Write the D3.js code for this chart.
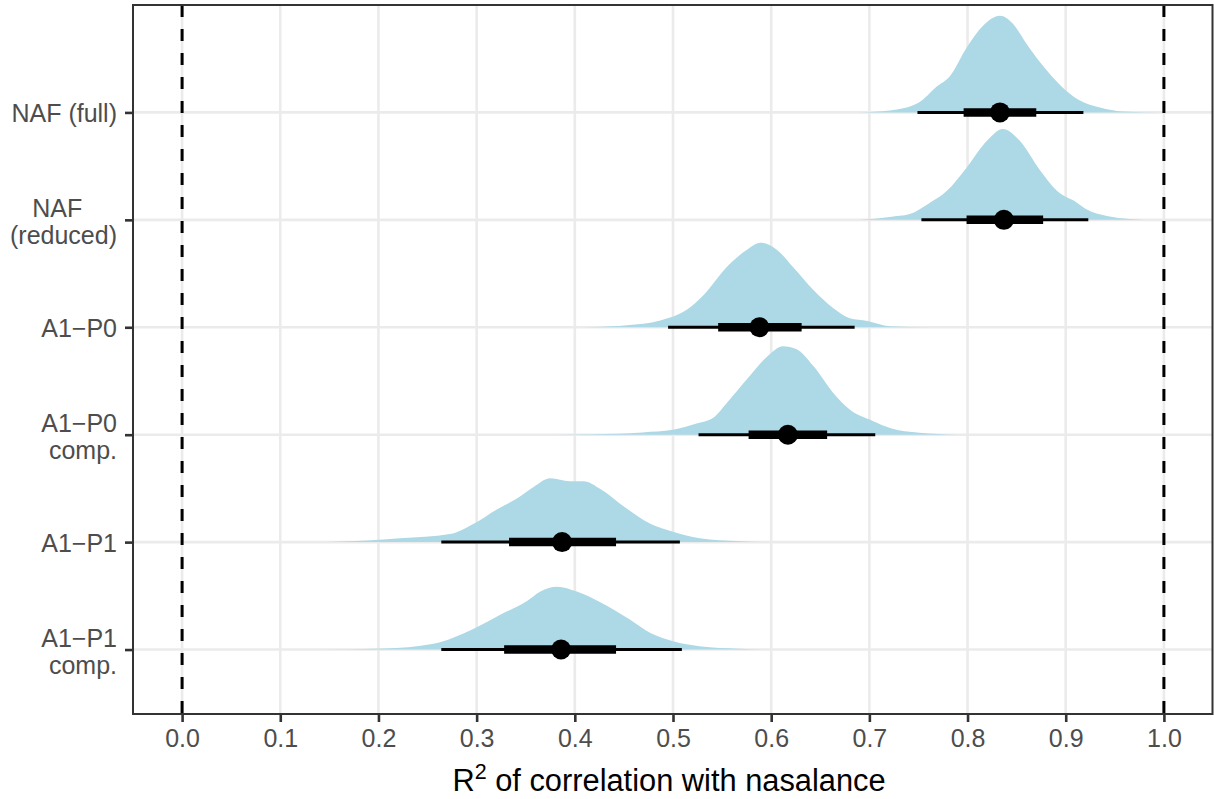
<!DOCTYPE html>
<html>
<head>
<meta charset="utf-8">
<script src="https://cdn.jsdelivr.net/npm/d3@7"></script>
<style>
  body { margin: 0; background: #fff; }
  svg { font-family: "Liberation Sans", Arial, sans-serif; }
</style>
</head>
<body>
<svg></svg>
<script>
// categories, top to bottom
const categories = ["NAF (full)", "NAF (reduced)", "A1−P0", "A1−P0 comp.", "A1−P1", "A1−P1 comp."];
const labelLines = [["NAF (full)"], ["NAF     ", "(reduced)"], ["A1−P0"], ["A1−P0", "comp."], ["A1−P1"], ["A1−P1", "comp."]];

// density curves (x = R², d = relative density, max 1)
const nafFullX = [0.69, 0.721, 0.75, 0.769, 0.782, 0.799, 0.816, 0.833, 0.846, 0.86, 0.881, 0.901, 0.914, 0.935, 0.958, 0.996];
const nafFullD = [0, 0.02, 0.10, 0.27, 0.375, 0.67, 0.90, 1.0, 0.92, 0.71, 0.43, 0.22, 0.125, 0.05, 0.01, 0];
const nafRedX = [0.69, 0.721, 0.741, 0.759, 0.779, 0.799, 0.82, 0.836, 0.853, 0.874, 0.891, 0.911, 0.921, 0.942, 0.965, 0.996];
const nafRedD = [0, 0.03, 0.06, 0.16, 0.30, 0.54, 0.82, 0.94, 0.82, 0.51, 0.30, 0.18, 0.11, 0.04, 0.01, 0];
const a1p0X = [0.40, 0.419, 0.453, 0.487, 0.514, 0.531, 0.555, 0.575, 0.589, 0.606, 0.622, 0.643, 0.663, 0.68, 0.698, 0.721, 0.762];
const a1p0D = [0, 0.003, 0.02, 0.07, 0.18, 0.33, 0.625, 0.80, 0.875, 0.80, 0.625, 0.385, 0.20, 0.094, 0.066, 0.01, 0];
const a1p0cX = [0.38, 0.419, 0.469, 0.50, 0.524, 0.541, 0.555, 0.575, 0.596, 0.612, 0.626, 0.643, 0.663, 0.68, 0.704, 0.721, 0.751, 0.79];
const a1p0cD = [0, 0.005, 0.024, 0.05, 0.115, 0.175, 0.33, 0.57, 0.81, 0.915, 0.885, 0.71, 0.435, 0.26, 0.14, 0.07, 0.02, 0];
const a1p1X = [0.141, 0.154, 0.222, 0.273, 0.297, 0.321, 0.341, 0.358, 0.375, 0.395, 0.409, 0.426, 0.451, 0.477, 0.50, 0.527, 0.568, 0.599];
const a1p1D = [0, 0.003, 0.04, 0.083, 0.19, 0.34, 0.45, 0.57, 0.66, 0.63, 0.63, 0.55, 0.36, 0.19, 0.107, 0.04, 0.01, 0];
const a1p1cX = [0.141, 0.205, 0.256, 0.296, 0.324, 0.351, 0.365, 0.382, 0.402, 0.426, 0.456, 0.477, 0.50, 0.527, 0.568, 0.599];
const a1p1cD = [0, 0.01, 0.06, 0.21, 0.36, 0.50, 0.60, 0.65, 0.60, 0.49, 0.31, 0.17, 0.086, 0.034, 0.008, 0];

// point + intervals (66% thick, 95% thin)
const medians = [0.833, 0.837, 0.588, 0.617, 0.387, 0.386];
const lo66 = [0.796, 0.799, 0.546, 0.577, 0.333, 0.328];
const hi66 = [0.870, 0.877, 0.631, 0.657, 0.442, 0.442];
const lo95 = [0.749, 0.753, 0.495, 0.526, 0.264, 0.264];
const hi95 = [0.918, 0.923, 0.685, 0.706, 0.507, 0.509];

const refLines = [0, 1];
const xTicks = [0, 0.1, 0.2, 0.3, 0.4, 0.5, 0.6, 0.7, 0.8, 0.9, 1.0];

const slabX = [nafFullX, nafRedX, a1p0X, a1p0cX, a1p1X, a1p1cX];
const slabD = [nafFullD, nafRedD, a1p0D, a1p0cD, a1p1D, a1p1cD];

const width = 1214, height = 799;
const svg = d3.select("svg").attr("width", width).attr("height", height);

const panel = { left: 133, right: 1212.5, top: 5, bottom: 714 };

const xScale = d3.scaleLinear().domain([-0.05, 1.05]).range([panel.left, 1213]);
// rows numbered 6 (top) .. 1 (bottom); extra room above the top row for its slab
const yScale = d3.scaleLinear().domain([0.4, 7.0]).range([panel.bottom, panel.top]);
const rowPos = (i) => yScale(categories.length - i);
const step = yScale(1) - yScale(2);
const slabScale = d3.scaleLinear().domain([0, 1]).range([0, 0.9 * step]);

const gridColor = "#EBEBEB";
const lw = 2.6;
const fs = 25;

// grid
const grid = svg.append("g");
grid.selectAll(".gx").data(xTicks).join("line")
  .attr("x1", (d) => xScale(d)).attr("x2", (d) => xScale(d))
  .attr("y1", panel.top).attr("y2", panel.bottom)
  .attr("stroke", gridColor).attr("stroke-width", lw);
grid.selectAll(".gy").data(categories).join("line")
  .attr("x1", panel.left).attr("x2", panel.right)
  .attr("y1", (d, i) => rowPos(i)).attr("y2", (d, i) => rowPos(i))
  .attr("stroke", gridColor).attr("stroke-width", lw);

// slabs
categories.forEach((c, i) => {
  const pts = slabX[i].map((x, j) => [x, slabD[i][j]]);
  const area = d3.area()
    .x((d) => xScale(d[0]))
    .y0(rowPos(i))
    .y1((d) => rowPos(i) - slabScale(d[1]))
    .curve(d3.curveMonotoneX);
  svg.append("path").attr("d", area(pts)).attr("fill", "#ADD8E6");
});

// reference lines
svg.selectAll(".ref").data(refLines).join("line")
  .attr("x1", (d) => xScale(d)).attr("x2", (d) => xScale(d))
  .attr("y1", panel.top).attr("y2", panel.bottom)
  .attr("stroke", "black").attr("stroke-width", 3)
  .attr("stroke-dasharray", "12,12");

// intervals
const iv = svg.append("g");
iv.selectAll(".thin").data(categories).join("line")
  .attr("x1", (d, i) => xScale(lo95[i])).attr("x2", (d, i) => xScale(hi95[i]))
  .attr("y1", (d, i) => rowPos(i)).attr("y2", (d, i) => rowPos(i))
  .attr("stroke", "black").attr("stroke-width", 3);
iv.selectAll(".thick").data(categories).join("line")
  .attr("x1", (d, i) => xScale(lo66[i])).attr("x2", (d, i) => xScale(hi66[i]))
  .attr("y1", (d, i) => rowPos(i)).attr("y2", (d, i) => rowPos(i))
  .attr("stroke", "black").attr("stroke-width", 8.5);
iv.selectAll("circle").data(categories).join("circle")
  .attr("cx", (d, i) => xScale(medians[i])).attr("cy", (d, i) => rowPos(i))
  .attr("r", 10).attr("fill", "black");

// panel border
svg.append("rect")
  .attr("x", panel.left).attr("y", panel.top)
  .attr("width", panel.right - panel.left).attr("height", panel.bottom - panel.top)
  .attr("fill", "none").attr("stroke", "#333333").attr("stroke-width", 2);

// x axis
const xAxis = d3.axisBottom(xScale).tickValues(xTicks).tickFormat(d3.format(".1f")).tickSize(8).tickPadding(7);
const xAxisG = svg.append("g").attr("transform", `translate(0, ${panel.bottom})`).call(xAxis);
xAxisG.select(".domain").remove();
xAxisG.selectAll(".tick line").attr("stroke", "#333333").attr("stroke-width", lw);
xAxisG.selectAll(".tick text").attr("fill", "#4D4D4D").attr("font-size", fs).attr("font-family", null);

// y axis
const yAxis = d3.axisLeft(yScale).tickValues(categories.map((c, i) => categories.length - i)).tickFormat("").tickSize(8);
const yAxisG = svg.append("g").attr("transform", `translate(${panel.left}, 0)`).call(yAxis);
yAxisG.select(".domain").remove();
yAxisG.selectAll(".tick line").attr("stroke", "#333333").attr("stroke-width", lw);
yAxisG.selectAll(".tick text").each(function (d) {
  const lines = labelLines[categories.length - d];
  const t = d3.select(this)
    .attr("fill", "#4D4D4D").attr("font-size", fs).attr("font-family", null)
    .attr("x", -16).attr("dy", null).attr("y", 0)
    .style("white-space", "pre");
  const first = lines.length === 1 ? 9 : -3;
  lines.forEach((ln, k) => {
    t.append("tspan").attr("x", -16).attr("y", first + k * 27).text(ln);
  });
});

// x axis title
const title = svg.append("text")
  .attr("x", 669).attr("y", 791)
  .attr("text-anchor", "middle").attr("font-size", 30.8).attr("fill", "black");
title.append("tspan").text("R");
title.append("tspan").attr("font-size", 21.5).attr("dy", -12).text("2");
title.append("tspan").attr("dy", 12).text(" of correlation with nasalance");
</script>
</body>
</html>
